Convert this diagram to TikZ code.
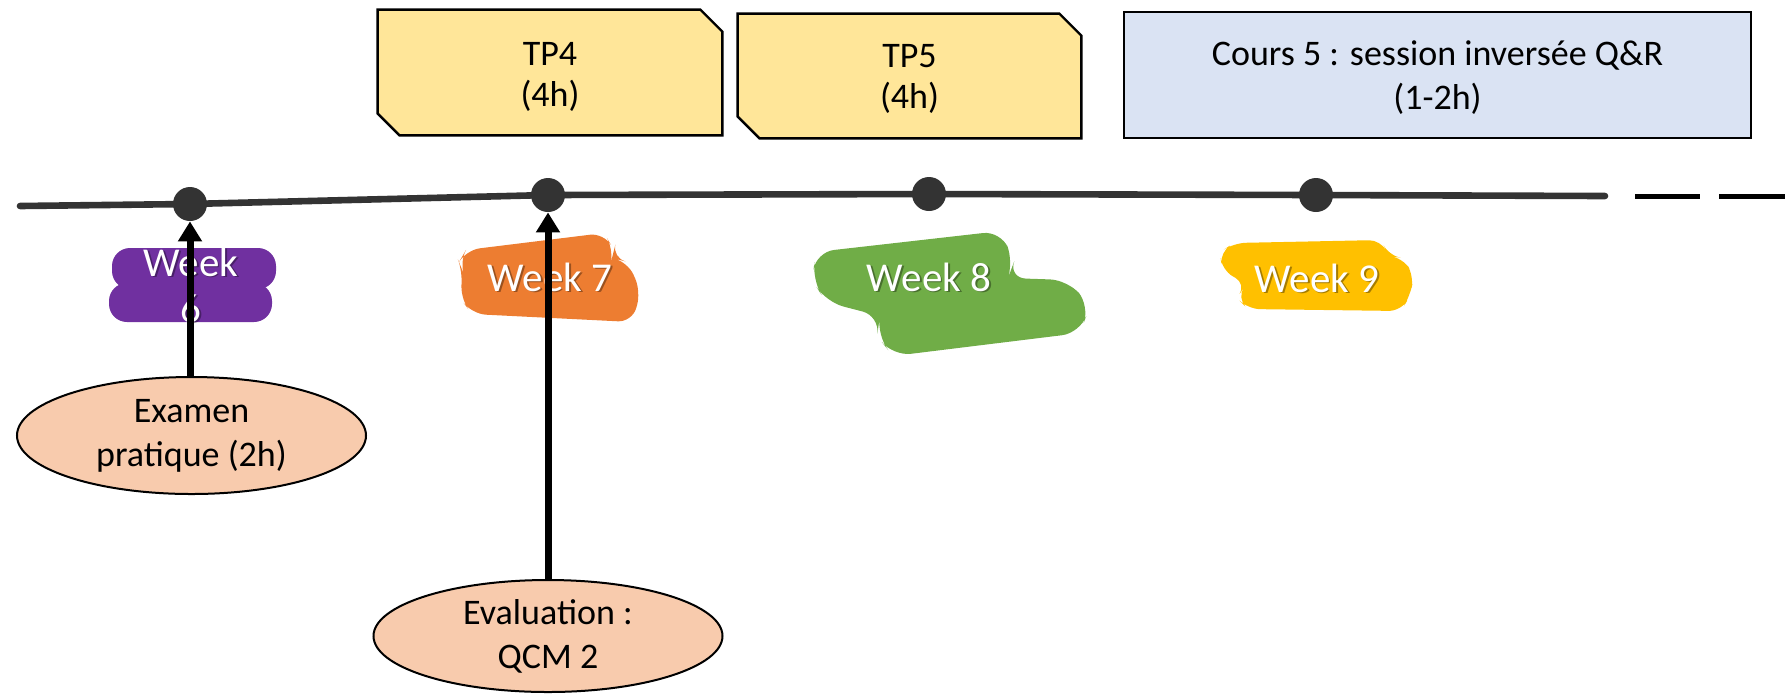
\documentclass[tikz,border=0pt]{standalone}
\usepackage{fontspec}
\setmainfont{Carlito}
\usetikzlibrary{shapes.geometric,arrows.meta,backgrounds}

\definecolor{tpyellow}{HTML}{FFE699}
\definecolor{coursblue}{HTML}{DAE3F3}
\definecolor{evalpeach}{HTML}{F8CBAD}
\definecolor{dotgray}{HTML}{333333}
\definecolor{wkpurple}{HTML}{7030A0}
\definecolor{wkorange}{HTML}{ED7D31}
\definecolor{wkgreen}{HTML}{70AD47}
\definecolor{wkyellow}{HTML}{FFC000}

\tikzset{
	tpbox/.style={rectangle, inner sep=0pt, align=center, font=\fontsize{18}{20.5}\selectfont},
	tpedge/.style={draw, line width=1.2pt, fill=tpyellow, line join=miter},
	coursbox/.style={rectangle, draw, line width=1.2pt, fill=coursblue, inner sep=0pt, align=center,
		font=\fontsize{18}{22}\selectfont},
	evalbox/.style={ellipse, draw, line width=1pt, fill=evalpeach, inner sep=0pt, align=center,
		minimum width=174.5pt, font=\fontsize{18}{22}\selectfont},
	weekdot/.style={circle, fill=dotgray, inner sep=0pt, minimum size=17pt},
	weektxt/.style={text=white, align=center, font=\fontsize{20.5}{23}\selectfont},
	weekshadow/.style={text=black, opacity=0.35, align=center, font=\fontsize{20.5}{23}\selectfont},
	uparrow/.style={line width=3.5pt, -{Triangle[width=11.5pt,length=10pt]}},
}

\begin{document}
\begin{tikzpicture}[x=0.5pt,y=-0.5pt]
	\useasboundingbox (0,0) rectangle (1785,693);

	% top boxes
	\node[tpbox, minimum width=172pt, minimum height=62.5pt] (tp4) at (550,72.5) {};
	\node[tpbox, minimum width=171.5pt, minimum height=62pt] (tp5) at (909.5,76) {};
	\begin{scope}[on background layer]
		\foreach \b in {tp4,tp5}{
			\path[tpedge] ([xshift=-11pt]\b.north east) -- ([yshift=-11pt]\b.north east) -- (\b.south east)
				-- ([xshift=11pt]\b.south west) -- ([yshift=11pt]\b.south west) -- (\b.north west) -- cycle;
		}
	\end{scope}
	\node[tpbox] (tp4txt) at (550,77) {TP4\\(4h)};
	\node[tpbox] (tp5txt) at (909.5,79) {TP5\\(4h)};
	\node[coursbox, minimum width=313.5pt, minimum height=63pt] (cours) at (1437.5,75) {};
	\node[coursbox, draw=none, fill=none] (courstxt) at (1437.5,78) {Cours 5 : session invers\'ee Q\&R\\(1-2h)};

	% timeline
	\coordinate (tl0) at (20,206);
	\coordinate (tl1) at (1605,196);
	\coordinate (d6) at (190,204);
	\coordinate (d7) at (548,195);
	\coordinate (d8) at (929,194);
	\coordinate (d9) at (1316,195);
	\draw[dotgray, line width=3.3pt, line cap=round] (tl0) -- (d6) -- (d7) -- (d8) -- (d9) -- (tl1);
	\foreach \d in {d6,d7,d8,d9}{
		\node[weekdot] (\d dot) at (\d) {};
	}
	\draw[line width=2.5pt] (1635,196) -- (1700,196);
	\draw[line width=2.5pt] (1719,196) -- (1785,196);

	% week brush strokes
	\fill[wkpurple, rounded corners=9pt] (112,248) rectangle (276,289);
	\fill[wkpurple, rounded corners=9pt] (109,283) rectangle (272,322);
	\fill[wkorange, rounded corners=7pt] (466,250) -- (604,233) -- (614,250) -- (612,258) -- (628,262) -- (641,292) -- (632,322) -- (472,314) -- (460,298) -- (463,272) -- (459,262) -- cycle;
	\fill[wkgreen, rounded corners=9pt] (816,252) -- (1001,231) -- (1014,262) -- (1008,278) -- (1068,280) -- (1090,306) -- (1080,333) -- (893,356) -- (877,336) -- (880,316) -- (826,302) -- (812,280) -- cycle;
	\fill[wkyellow, rounded corners=6pt] (1220,252) -- (1234,243) -- (1381,240) -- (1389,256) -- (1403,258) -- (1414,276) -- (1410,296) -- (1401,311) -- (1248,309) -- (1237,298) -- (1246,284) -- (1222,270) -- cycle;

	\node[weekshadow] at (192.5,286.5) {Week\\6};
	\node[weektxt] (w6) at (191,285) {Week\\6};
	\node[weekshadow] at (551.5,278.5) {Week 7};
	\node[weektxt] (w7) at (550,277) {Week 7};
	\node[weekshadow] at (930.5,278.5) {Week 8};
	\node[weektxt] (w8) at (929,277) {Week 8};
	\node[weekshadow] at (1318.5,279.5) {Week 9};
	\node[weektxt] (w9) at (1317,278) {Week 9};

	% evaluations
	\node[evalbox, minimum height=58.5pt] (exam) at (191.5,435.5) {Examen\\pratique (2h)};
	\node[evalbox, minimum height=56pt] (qcm) at (548,636) {Evaluation :\\QCM 2};
	\draw[uparrow] (d6dot.south |- exam.north) -- (d6dot.south);
	\draw[uparrow] (d7dot.south |- qcm.north) -- (d7dot.south);
\end{tikzpicture}
\end{document}
